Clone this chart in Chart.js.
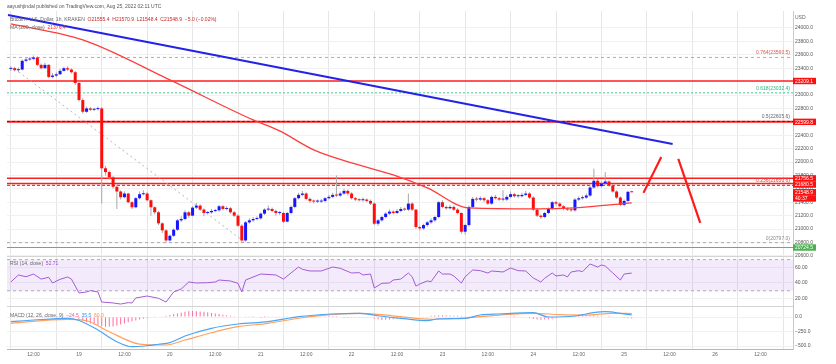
<!DOCTYPE html>
<html lang="en">
<head>
<meta charset="UTF-8">
<title>BTCUSD 1h</title>
<script src="https://cdn.jsdelivr.net/npm/chart.js"></script>
<style>
  body { margin: 0; background: #fff; font-family: 'Liberation Sans', Arial, sans-serif; }
  #wrap { position: relative; width: 836px; height: 364px; overflow: hidden; }
  #chart { position: absolute; left: 0; top: 0; }
  .t { position: absolute; font-size: 5px; line-height: 6px; color: #666; white-space: nowrap; }
  .red { color: #c62828; }
</style>
</head>
<body>
<div id="wrap">
  <canvas id="chart" width="836" height="364"></canvas>
  <div class="t" style="left:7px;top:3px;color:#555">aayushjindal published on TradingView.com, Aug 25, 2022 02:11 UTC</div>
  <div class="t" style="left:10px;top:16px">Bitcoin / U.S. Dollar, 1h, KRAKEN&nbsp; <span class="red">O21555.4&nbsp; H21570.9&nbsp; L21548.4&nbsp; C21548.9&nbsp; −5.0 (−0.02%)</span></div>
  <div class="t" style="left:10px;top:24px">MA (200, close)&nbsp; <span style="color:#ff2d2d">21376.4</span></div>
  <div class="t" style="left:795px;top:14px">USD</div>
  <div class="t" style="left:10px;top:260px">RSI (14, close)&nbsp; <span style="color:#9c4dcc">52.71</span></div>
  <div class="t" style="left:10px;top:312px">MACD (12, 26, close, 9)&nbsp; <span style="color:#ff4f8b">−24.5</span>&nbsp; <span style="color:#2f9bf5">35.5</span>&nbsp; <span style="color:#ff8a3d">60.0</span></div>
</div>
<script>
  // hours are counted from Aug 19 00:00; first candle is Aug 18 06:00
  const firstHour = -18;
  const firstOpen = 23390;

  const closes = [
    23400,23370,23380,23510,23530,23540,23560,23450,23400,23450,
    23270,23290,23310,23360,23400,23380,23340,23180,22925,22750,
    22800,22780,22790,22800,21907,21850,21770,21630,21560,21475,
    21530,21400,21325,21460,21520,21530,21430,21325,21250,21085,
    20980,20830,20900,20990,21130,21150,21250,21200,21320,21350,
    21290,21240,21250,21270,21280,21340,21300,21310,21250,21200,
    21050,20830,21100,21130,21150,21160,21230,21290,21300,21270,
    21240,21240,21110,21240,21330,21460,21510,21530,21450,21420,
    21410,21410,21420,21460,21480,21510,21500,21530,21570,21530,
    21460,21440,21430,21440,21420,21380,21080,21130,21180,21230,
    21260,21240,21270,21300,21290,21380,21290,21030,21010,21060,
    21100,21130,21180,21400,21330,21310,21330,21290,21240,20960,
    21060,21330,21450,21440,21460,21430,21380,21480,21460,21440,
    21440,21480,21520,21490,21490,21510,21530,21470,21290,21200,
    21180,21240,21300,21400,21380,21340,21300,21290,21280,21440,
    21460,21470,21500,21620,21720,21640,21680,21710,21650,21560,
    21470,21360,21420,21555.4,21548.9
  ];
  const highs = [
    23430,23420,23410,23530,23560,23570,23590,23580,23470,23480,
    23460,23330,23340,23390,23420,23430,23400,23360,23200,22950,
    22830,22820,22810,22830,22820,21940,21870,21790,21660,21580,
    21560,21540,21420,21480,21560,21580,21550,21440,21340,21270,
    21100,21000,20920,21010,21150,21190,21280,21270,21340,21390,
    21370,21310,21270,21300,21300,21360,21360,21340,21330,21270,
    21220,21070,21120,21160,21180,21190,21250,21310,21350,21320,
    21290,21270,21260,21260,21350,21480,21540,21570,21550,21470,
    21440,21440,21450,21480,21510,21540,21800,21560,21600,21590,
    21550,21480,21460,21470,21460,21440,21400,21150,21200,21250,
    21290,21280,21300,21330,21320,21530,21400,21300,21050,21080,
    21120,21160,21200,21420,21430,21350,21360,21350,21310,21250,
    21080,21350,21480,21480,21490,21480,21450,21500,21510,21480,
    21580,21510,21560,21540,21520,21540,21570,21550,21490,21310,
    21220,21260,21320,21420,21420,21400,21360,21320,21310,21460,
    21490,21500,21530,21650,21900,21750,21710,21850,21730,21670,
    21580,21490,21440,21570,21570.9
  ];
  const lows = [
    23360,23350,23340,23370,23490,23510,23520,23430,23380,23390,
    23250,23250,23270,23300,23350,23360,23320,23150,22900,22720,
    22730,22760,22760,22770,21380,21800,21740,21600,21300,21440,
    21460,21380,21300,21310,21440,21500,21410,21200,21220,21060,
    20940,20800,20810,20880,20970,21100,21130,21170,21190,21300,
    21270,21190,21220,21230,21250,21260,21280,21280,21230,21180,
    21030,20800,20810,21080,21110,21130,21140,21210,21270,21250,
    21200,21210,21090,21100,21220,21310,21440,21490,21430,21390,
    21380,21390,21390,21400,21440,21460,21480,21480,21510,21500,
    21440,21420,21410,21410,21400,21360,21060,21050,21110,21160,
    21210,21220,21220,21250,21270,21270,21270,21000,20980,20990,
    21040,21080,21110,21160,21310,21290,21290,21270,21220,20930,
    20920,21040,21310,21410,21420,21400,21360,21360,21440,21420,
    21410,21420,21460,21470,21460,21470,21490,21450,21270,21180,
    21150,21160,21220,21280,21350,21320,21280,21270,21260,21260,
    21420,21440,21450,21480,21600,21620,21620,21660,21630,21540,
    21450,21340,21340,21400,21548.4
  ];

  // 200 MA read at a few bars
  const maBar = [0, 19, 42, 64, 71, 80, 90, 101, 110, 121, 139, 149, 164];
  const maVal = [24060, 23821, 23225, 22628, 22464, 22181, 21987, 21808, 21614, 21316, 21301, 21316, 21390];

  // drawn lines (bar index, price)
  const trendBar = [-0.75, 174.8];
  const trendVal = [24194, 22270];
  const fibDiagBar = [1, 62];
  const fibDiagVal = [23390, 20797];
  const projUpBar = [167.1, 171.8];
  const projUpVal = [21540, 22076];
  const projDownBar = [176.3, 182.1];
  const projDownVal = [22046, 21092];

  const fibRatios = ['0.764', '0.618', '0.5', '0.236', '0'];
  const fibLevels = [23560.5, 23032.4, 22605.6, 21650.6, 20797.0];
  const redLevels = [23209.1, 22599.8, 21756.5, 21680.5];
  const greenLevel = 20724.5;
  const lastClose = 21548.9;
  const countdown = '40:37';

  const rsiBar = [0,2,4,6,8,10,11,13,15,16,18,20,21,23,24,27,29,31,32,33,36,39,41,43,45,47,49,52,54,55,58,60,61,62,66,70,72,75,76,77,79,82,85,87,90,92,93,95,96,98,100,101,103,105,106,107,108,110,111,113,114,116,117,119,120,122,124,126,127,130,132,134,136,138,140,141,143,144,146,147,148,150,151,153,155,156,157,159,161,162,164];
  const rsiVal = [41.3,50.3,48,51.5,45,47.3,40,44.7,47.7,45,27.2,28.5,30.2,28.5,15.6,14.4,13,14.8,14.4,20.8,23.3,20.4,15.6,28.5,32.3,41.3,40,40.4,41.3,43.8,42.6,39.6,28.5,43.8,51.5,50.3,45,56.7,60.5,57.5,55.4,55.4,60.5,58.8,52.8,53.3,50.3,51.5,33.6,39.6,40,43.8,45,52.8,48,36,38.7,42.6,41.7,55.4,51.5,51.5,49,40,48,56.7,55.8,52.8,55.4,54.1,59.2,55.8,55.4,46.4,41.3,46,52.8,49,50.3,47.7,54.1,55.8,54.5,64.4,60.5,63.1,61.8,52.8,43.8,51.5,52.71];

  const macdBar = [0,6,15,18,23,28,32,36,39,42,46,53,60,68,76,85,92,97,103,110,113,120,124,129,138,142,149,154,157,161,164];
  const macdVal = [-81,-52,-22,-60,-224,-426,-512,-495,-470,-443,-328,-195,-121,-81,5,52,64,22,-22,-64,-30,-22,34,52,74,0,17,74,91,64,35.5];
  const signalBar = [0,15,20,26,34,41,46,53,60,68,76,85,92,98,103,111,120,129,138,145,152,159,164];
  const signalVal = [-109,-40,-64,-253,-466,-483,-397,-271,-167,-109,-22,45,62,40,5,-40,-17,34,64,40,34,64,60];
  const histVal = [
    8,8,9,10,10,11,12,12,12,11,10,8,6,5,4,3,0,-10,
    -30,-60,-90,-110,-130,-140,-160,-170,-170,-165,-150,-130,-110,-90,-75,-60,-45,-30,-20,-10,
    5,10,15,20,35,50,60,75,90,100,105,100,95,90,80,70,60,50,40,30,20,15,
    10,8,5,3,2,0,-2,2,4,5,6,5,4,6,8,10,12,12,10,8,6,5,4,3,2,2,1,0,-1,-2,-3,-4,-5,-5,-6,-8,
    -30,-40,-50,-48,-44,-40,-32,-25,-20,-15,-12,-10,-8,-6,-4,
    20,28,32,30,28,25,22,20,16,14,12,12,14,16,15,14,12,10,10,8,6,4,2,0,-5,-10,
    -20,-35,-45,-48,-44,-38,-30,-20,-10,
    5,12,18,22,25,28,30,28,26,22,15,8,2,
    -5,-10,-15,-18,-22,-24.5
  ];

  // axis ticks
  const dayNames = ['18', '19', '20', '21', '22', '23', '24', '25', '26'];
  const halfDayLabel = '12:00';
  const priceTicks = [20600, 20800, 21000, 21200, 21400, 21600, 21800, 22000, 22200, 22400, 22600,
                      22800, 23000, 23200, 23400, 23600, 23800, 24000];
  const rsiTicks = [20, 40, 60];
  const macdTicks = [-500, -250, 0];

  const xMin = -19.02, xMax = 188.6;
  const FONT = '"Liberation Sans", Arial, sans-serif';
  Chart.defaults.font.family = FONT;

  const hourOf = i => i + firstHour;
  const pts = (bars, vals) => bars.map((b, k) => ({ x: hourOf(b), y: vals[k] }));
  const flat = v => [{ x: xMin, y: v }, { x: xMax, y: v }];
  const opens = closes.map((c, i) => i === 0 ? firstOpen : closes[i - 1]);

  const lineDs = (data, color, width, extra) => Object.assign({
    type: 'line', data, borderColor: color, borderWidth: width, pointRadius: 0,
    yAxisID: 'y', tension: 0, fill: false
  }, extra || {});

  const datasets = [];
  // fib levels
  const fibStyle = [
    { c: 'rgba(230,120,120,0.8)', d: [3, 3], w: 1 },
    { c: '#5fd3a8', d: [2, 2], w: 1.2 },
    { c: '#333333', d: [3, 2], w: 1 },
    { c: '#ff3030', d: [3, 2], w: 1.2 },
    { c: '#a8a8a8', d: [3, 3], w: 1 }
  ];
  fibLevels.forEach((v, k) => datasets.push(lineDs(flat(v), fibStyle[k].c, fibStyle[k].w, { borderDash: fibStyle[k].d, order: 9 })));
  redLevels.forEach((v, k) => datasets.push(lineDs(flat(v), '#ff1f1f', k === 1 ? 2 : 1.5, { order: 10 })));
  datasets.push(lineDs(flat(greenLevel), '#5cb85c', 1.2, { order: 9 }));
  datasets.push(lineDs(pts(fibDiagBar, fibDiagVal), '#b5b5b5', 1, { borderDash: [2, 3], order: 8 }));

  // candles
  datasets.push({
    type: 'bar', yAxisID: 'y', grouped: false, order: 7, barThickness: 1, inflateAmount: 0,
    data: closes.map((c, i) => ({ x: hourOf(i), y: [lows[i], highs[i]] })),
    backgroundColor: '#a9a9a9'
  });
  datasets.push({
    type: 'bar', yAxisID: 'y', grouped: false, order: 6, barThickness: 3, minBarLength: 1, inflateAmount: 0,
    data: closes.map((c, i) => ({ x: hourOf(i), y: [opens[i], c] })),
    backgroundColor: closes.map((c, i) => c >= opens[i] ? '#1515ff' : '#ff0d0d')
  });

  datasets.push(lineDs(pts(maBar, maVal), '#ff3d3d', 1.3, { cubicInterpolationMode: 'monotone', order: 5 }));
  datasets.push(lineDs(pts(trendBar, trendVal), '#2222e8', 2, { order: 4 }));
  datasets.push(lineDs(pts(projUpBar, projUpVal), '#ff1a1a', 2.2, { order: 1 }));
  datasets.push(lineDs(pts(projDownBar, projDownVal), '#ff1a1a', 2.2, { order: 1 }));

  // RSI pane
  datasets.push(lineDs(flat(70), '#b0b0b0', 1, { yAxisID: 'rsi', borderDash: [3, 3], fill: '+1', backgroundColor: 'rgba(156,92,222,0.12)', order: 9 }));
  datasets.push(lineDs(flat(30), '#b0b0b0', 1, { yAxisID: 'rsi', borderDash: [3, 3], order: 9 }));
  datasets.push(lineDs(pts(rsiBar, rsiVal), '#a35bd6', 1, { yAxisID: 'rsi', order: 2 }));

  // MACD pane
  datasets.push({
    type: 'bar', yAxisID: 'macd', grouped: false, order: 7, barThickness: 1, inflateAmount: 0,
    data: histVal.map((v, i) => ({ x: hourOf(i), y: v })),
    backgroundColor: '#ff6d9a'
  });
  datasets.push(lineDs(pts(macdBar, macdVal), '#4aa6f5', 1.2, { yAxisID: 'macd', cubicInterpolationMode: 'monotone', order: 3 }));
  datasets.push(lineDs(pts(signalBar, signalVal), '#ffa260', 1.2, { yAxisID: 'macd', cubicInterpolationMode: 'monotone', order: 3 }));

  const tickFont = { size: 5, family: FONT };
  const fixedTicks = list => s => { s.ticks = list.map(v => ({ value: v })); };
  const yCommon = {
    type: 'linear', position: 'right', stack: 'panes',
    grid: { color: '#f1f1f1', drawTicks: false },
    border: { color: '#c9c9c9' },
    afterFit(s) { s.width = 25; }
  };
  const yTicks = callback => ({ autoSkip: false, padding: 2, color: '#555', font: tickFont, callback });

  const fibColors = ['#d9534f', '#26b88a', '#666666', '#e53935', '#888888'];

  const overlay = {
    id: 'overlay',
    afterDatasetsDraw(chart) {
      const { ctx, scales } = chart;
      const y = scales.y;
      ctx.save();
      ctx.font = '5px ' + FONT;
      ctx.textAlign = 'right';
      ctx.textBaseline = 'bottom';
      fibLevels.forEach((v, k) => {
        ctx.fillStyle = fibColors[k];
        ctx.fillText(fibRatios[k] + '(' + v.toFixed(1) + ')', 790, y.getPixelForValue(v) - 2);
      });
      // pane separators
      ctx.strokeStyle = '#d4d4d4';
      ctx.lineWidth = 1;
      [scales.rsi.top, scales.macd.top].forEach(p => {
        ctx.beginPath();
        ctx.moveTo(chart.chartArea.left, Math.round(p) + 0.5);
        ctx.lineTo(chart.chartArea.right, Math.round(p) + 0.5);
        ctx.stroke();
      });
      ctx.restore();
    },
    afterDraw(chart) {
      const { ctx, scales } = chart;
      const y = scales.y;
      const tags = redLevels.map(v => ({ text: v.toFixed(1), py: y.getPixelForValue(v), bg: '#ff1010' }));
      tags.push({ text: lastClose.toFixed(1), py: y.getPixelForValue(lastClose), bg: '#ff1010' });
      tags.push({ text: countdown, py: y.getPixelForValue(lastClose) + 6, bg: '#ff1010' });
      tags.push({ text: greenLevel.toFixed(1), py: y.getPixelForValue(greenLevel), bg: '#4caf50' });
      tags.sort((a, b) => a.py - b.py);
      for (let k = 1; k < tags.length; k++) {
        if (tags[k].py < tags[k - 1].py + 6.2) tags[k].py = tags[k - 1].py + 6.2;
      }
      ctx.save();
      ctx.font = '5px ' + FONT;
      ctx.textAlign = 'left';
      ctx.textBaseline = 'middle';
      const x0 = chart.chartArea.right;
      tags.forEach(t => {
        ctx.fillStyle = t.bg;
        ctx.fillRect(x0, t.py - 3.2, 23, 6.4);
        ctx.fillStyle = '#ffffff';
        ctx.fillText(t.text, x0 + 2, t.py + 0.3);
      });
      ctx.restore();
    }
  };

  new Chart(document.getElementById('chart'), {
    type: 'bar',
    data: { datasets },
    options: {
      responsive: false,
      animation: false,
      events: [],
      layout: { padding: { left: 7, right: 18, top: 11, bottom: 3 } },
      plugins: { legend: { display: false }, tooltip: { enabled: false } },
      scales: {
        x: {
          type: 'linear', min: xMin, max: xMax, offset: false,
          grid: { color: '#e6e6e6', drawTicks: false },
          border: { color: '#b8b8b8' },
          ticks: {
            stepSize: 12, includeBounds: false, autoSkip: false, maxRotation: 0, padding: 3,
            color: '#666', font: tickFont,
            callback: v => (v % 24 === 0) ? dayNames[v / 24 + 1] : halfDayLabel
          },
          afterFit(s) { s.height = 12; }
        },
        y: Object.assign({}, yCommon, {
          stackWeight: 245, min: 20598, max: 24253.5,
          afterBuildTicks: fixedTicks(priceTicks),
          ticks: yTicks(v => v.toFixed(1))
        }),
        rsi: Object.assign({}, yCommon, {
          stackWeight: 50, min: 10.5, max: 74.6,
          afterBuildTicks: fixedTicks(rsiTicks),
          ticks: yTicks(v => v.toFixed(2))
        }),
        macd: Object.assign({}, yCommon, {
          stackWeight: 43, min: -551.7, max: 189.7,
          afterBuildTicks: fixedTicks(macdTicks),
          ticks: yTicks(v => (v < 0 ? '−' : '') + Math.abs(v).toFixed(1))
        })
      }
    },
    plugins: [overlay]
  });
</script>
</body>
</html>
